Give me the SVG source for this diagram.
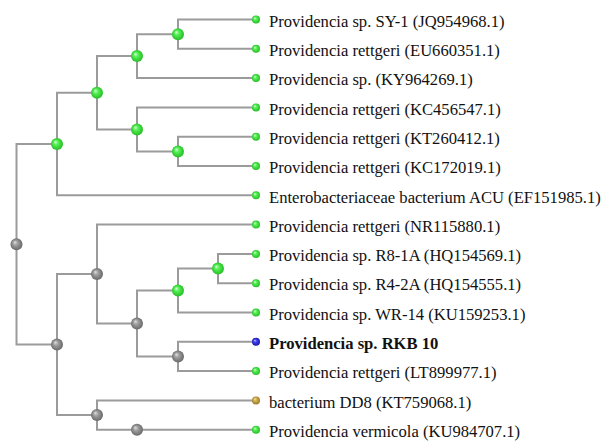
<svg xmlns="http://www.w3.org/2000/svg" width="606" height="443" viewBox="0 0 606 443">
<defs>
<radialGradient id="gGreen" cx="50%" cy="50%" r="55%" fx="35%" fy="32%">
<stop offset="0%" stop-color="#d8ffd8"/>
<stop offset="35%" stop-color="#55f055"/>
<stop offset="100%" stop-color="#1fb81f"/>
</radialGradient>
<radialGradient id="gGray" cx="50%" cy="50%" r="55%" fx="35%" fy="32%">
<stop offset="0%" stop-color="#e2e2e2"/>
<stop offset="35%" stop-color="#a0a0a0"/>
<stop offset="100%" stop-color="#626262"/>
</radialGradient>
<radialGradient id="gBlue" cx="50%" cy="50%" r="55%" fx="35%" fy="32%">
<stop offset="0%" stop-color="#c0c0ff"/>
<stop offset="35%" stop-color="#4040f0"/>
<stop offset="100%" stop-color="#1010a0"/>
</radialGradient>
<radialGradient id="gGold" cx="50%" cy="50%" r="55%" fx="35%" fy="32%">
<stop offset="0%" stop-color="#f8e8b0"/>
<stop offset="35%" stop-color="#d0b050"/>
<stop offset="100%" stop-color="#967528"/>
</radialGradient>
</defs>
<style>
.edge{fill:none;stroke:#9b9b9b;stroke-width:2}
.inner-green{fill:url(#gGreen)}
.inner-gray{fill:url(#gGray)}
.leaf-green{fill:url(#gGreen)}
.leaf-blue{fill:url(#gBlue)}
.leaf-gold{fill:url(#gGold)}
.lbl{font-size:16.6px;fill:#111}
.bold{font-weight:bold}
</style>
<rect width="606" height="443" fill="#ffffff"/>
<g id="connectors">
<path class="edge" d="M16.5 244.3 V144 H57"/>
<path class="edge" d="M16.5 244.3 V344.5 H57"/>
<path class="edge" d="M57 144 V92.7 H97"/>
<path class="edge" d="M57 144 V195.3 H256"/>
<path class="edge" d="M97 92.7 V56.1 H137"/>
<path class="edge" d="M97 92.7 V129.4 H137"/>
<path class="edge" d="M137 56.1 V34.2 H178"/>
<path class="edge" d="M137 56.1 V78.1 H256"/>
<path class="edge" d="M178 34.2 V19.5 H256"/>
<path class="edge" d="M178 34.2 V48.8 H256"/>
<path class="edge" d="M137 129.4 V107.4 H256"/>
<path class="edge" d="M137 129.4 V151.4 H178"/>
<path class="edge" d="M178 151.4 V136.7 H256"/>
<path class="edge" d="M178 151.4 V166 H256"/>
<path class="edge" d="M57 344.5 V274 H97"/>
<path class="edge" d="M57 344.5 V415 H97"/>
<path class="edge" d="M97 274 V224.6 H256"/>
<path class="edge" d="M97 274 V323.5 H137"/>
<path class="edge" d="M137 323.5 V290.5 H178"/>
<path class="edge" d="M137 323.5 V356.5 H178"/>
<path class="edge" d="M178 290.5 V268.6 H218"/>
<path class="edge" d="M178 290.5 V312.5 H256"/>
<path class="edge" d="M218 268.6 V253.9 H256"/>
<path class="edge" d="M218 268.6 V283.2 H256"/>
<path class="edge" d="M178 356.5 V341.8 H256"/>
<path class="edge" d="M178 356.5 V371.1 H256"/>
<path class="edge" d="M97 415 V400.4 H256"/>
<path class="edge" d="M97 415 V429.7 H137"/>
<path class="edge" d="M137 429.7 H256"/>
</g>
<g id="n-root"><circle class="inner-gray" cx="16.5" cy="244.3" r="6"/></g>
<g id="n-F"><circle class="inner-green" cx="57" cy="144" r="6"/></g>
<g id="n-C"><circle class="inner-green" cx="97" cy="92.7" r="6"/></g>
<g id="n-B"><circle class="inner-green" cx="137" cy="56.1" r="6"/></g>
<g id="n-A"><circle class="inner-green" cx="178" cy="34.2" r="6"/></g>
<g id="n-D"><circle class="inner-green" cx="137" cy="129.4" r="6"/></g>
<g id="n-E"><circle class="inner-green" cx="178" cy="151.4" r="6"/></g>
<g id="n-G"><circle class="inner-gray" cx="57" cy="344.5" r="6"/></g>
<g id="n-H"><circle class="inner-gray" cx="97" cy="274" r="6"/></g>
<g id="n-I"><circle class="inner-gray" cx="137" cy="323.5" r="6"/></g>
<g id="n-J"><circle class="inner-green" cx="178" cy="290.5" r="6"/></g>
<g id="n-K"><circle class="inner-green" cx="218" cy="268.6" r="6"/></g>
<g id="n-L"><circle class="inner-gray" cx="178" cy="356.5" r="6"/></g>
<g id="n-M"><circle class="inner-gray" cx="97" cy="415" r="6"/></g>
<g id="n-N"><circle class="inner-gray" cx="137" cy="429.7" r="6"/></g>
<g id="leaves" font-family="'Liberation Serif', 'Times New Roman', 'DejaVu Serif', serif">
<g id="leaf-JQ954968"><circle class="leaf-green" cx="256" cy="19.5" r="4"/><text class="lbl" x="269" y="26.7">Providencia sp. SY-1 (JQ954968.1)</text></g>
<g id="leaf-EU660351"><circle class="leaf-green" cx="256" cy="48.8" r="4"/><text class="lbl" x="269" y="56">Providencia rettgeri (EU660351.1)</text></g>
<g id="leaf-KY964269"><circle class="leaf-green" cx="256" cy="78.1" r="4"/><text class="lbl" x="269" y="85.3">Providencia sp. (KY964269.1)</text></g>
<g id="leaf-KC456547"><circle class="leaf-green" cx="256" cy="107.4" r="4"/><text class="lbl" x="269" y="114.6">Providencia rettgeri (KC456547.1)</text></g>
<g id="leaf-KT260412"><circle class="leaf-green" cx="256" cy="136.7" r="4"/><text class="lbl" x="269" y="143.9">Providencia rettgeri (KT260412.1)</text></g>
<g id="leaf-KC172019"><circle class="leaf-green" cx="256" cy="166" r="4"/><text class="lbl" x="269" y="173.2">Providencia rettgeri (KC172019.1)</text></g>
<g id="leaf-EF151985"><circle class="leaf-green" cx="256" cy="195.3" r="4"/><text class="lbl" x="269" y="202.5">Enterobacteriaceae bacterium ACU (EF151985.1)</text></g>
<g id="leaf-NR115880"><circle class="leaf-green" cx="256" cy="224.6" r="4"/><text class="lbl" x="269" y="231.8">Providencia rettgeri (NR115880.1)</text></g>
<g id="leaf-HQ154569"><circle class="leaf-green" cx="256" cy="253.9" r="4"/><text class="lbl" x="269" y="261.1">Providencia sp. R8-1A (HQ154569.1)</text></g>
<g id="leaf-HQ154555"><circle class="leaf-green" cx="256" cy="283.2" r="4"/><text class="lbl" x="269" y="290.4">Providencia sp. R4-2A (HQ154555.1)</text></g>
<g id="leaf-KU159253"><circle class="leaf-green" cx="256" cy="312.5" r="4"/><text class="lbl" x="269" y="319.7">Providencia sp. WR-14 (KU159253.1)</text></g>
<g id="leaf-RKB10"><circle class="leaf-blue" cx="256" cy="341.8" r="4"/><text class="lbl bold" x="269" y="349">Providencia sp. RKB 10</text></g>
<g id="leaf-LT899977"><circle class="leaf-green" cx="256" cy="371.1" r="4"/><text class="lbl" x="269" y="378.3">Providencia rettgeri (LT899977.1)</text></g>
<g id="leaf-KT759068"><circle class="leaf-gold" cx="256" cy="400.4" r="4"/><text class="lbl" x="269" y="407.6">bacterium DD8 (KT759068.1)</text></g>
<g id="leaf-KU984707"><circle class="leaf-green" cx="256" cy="429.7" r="4"/><text class="lbl" x="269" y="436.9">Providencia vermicola (KU984707.1)</text></g>
</g>
</svg>
